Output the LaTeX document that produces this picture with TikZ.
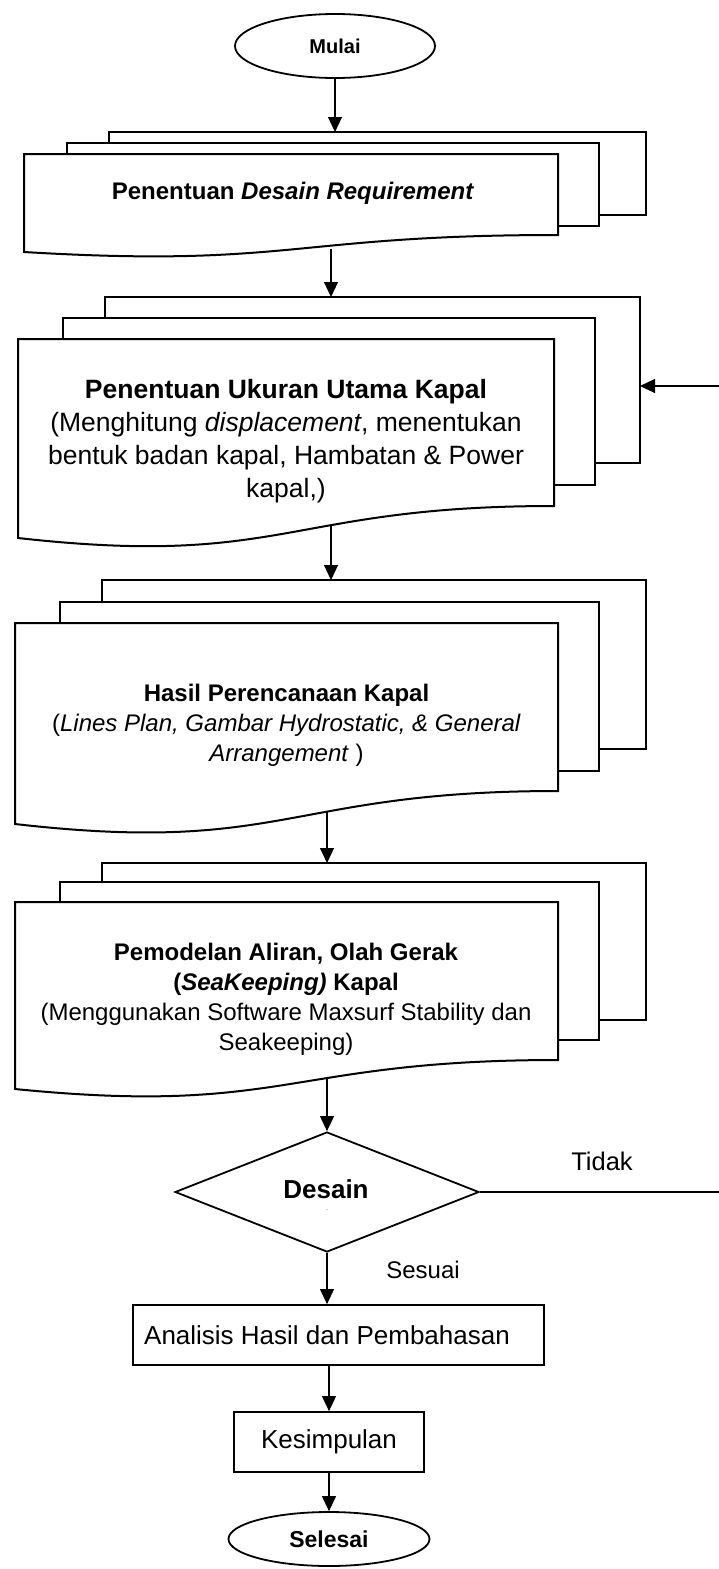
\documentclass[tikz,border=0pt]{standalone}
\usepackage{fontspec}
\setmainfont{Liberation Sans}
\usetikzlibrary{arrows.meta,shapes.geometric}
\begin{document}
\begin{tikzpicture}[x=1pt,y=-1pt,
  page/.style={draw, line width=2pt, fill=white, line join=miter},
  conn/.style={line width=1.1pt, -{Triangle[length=15pt,width=14pt]}},
  plain/.style={line width=1.1pt},
  term/.style={draw, ellipse, line width=1.8pt, inner sep=0pt},
  boxnode/.style={draw, line width=1.8pt, inner sep=0pt},
  txt/.style={align=center, inner sep=0pt}]
\useasboundingbox (0,0) rectangle (719,1569);

% Start
\node[term, minimum width=200pt, minimum height=64pt, font=\fontsize{20}{24}\selectfont\bfseries] (mulai) at (335,46) {Mulai};

% Block 1
\draw[page] (109,132) rectangle (646,215);
\draw[page] (67,143) rectangle (599,226);
\draw[page] (24,154) -- (558,154) -- (558,235) .. controls (291,235) and (291,268) .. (24,252) -- cycle;
\node[txt, font=\fontsize{24}{30}\selectfont\bfseries] (t1) at (293,193) {Penentuan \textit{Desain Requirement}};
\coordinate (b1top) at (335,132);
\coordinate (b1bot) at (331,249);

% Block 2
\draw[page] (105,297) rectangle (640,463);
\draw[page] (63,318) rectangle (595,485);
\draw[page] (18,339) -- (554,339) -- (554,506) .. controls (286,506) and (286,568) .. (18,538) -- cycle;
\node[txt, font=\fontsize{26.5}{33}\selectfont] (t2) at (286,441) {\textbf{Penentuan Ukuran Utama Kapal}\\(Menghitung \textit{displacement}, menentukan\\bentuk badan kapal, Hambatan \& Power\\kapal,)};
\coordinate (b2top) at (331,297);
\coordinate (b2bot) at (331,526);
\coordinate (b2right) at (640,386);
\coordinate (loopin) at (719,386);

% Block 3
\draw[page] (102,580) rectangle (646,749);
\draw[page] (60,602) rectangle (599,771);
\draw[page] (15,623) -- (558,623) -- (558,791) .. controls (286,791) and (286,855) .. (15,824) -- cycle;
\node[txt, font=\fontsize{24}{30}\selectfont] (t3) at (286.5,725) {\textbf{Hasil Perencanaan Kapal}\\(\textit{Lines Plan, Gambar Hydrostatic, \& General}\\\textit{Arrangement} )};
\coordinate (b3top) at (331,580);
\coordinate (b3bot) at (327,812);

% Block 4
\draw[page] (102,863) rectangle (646,1020);
\draw[page] (60,882) rectangle (599,1040);
\draw[page] (15,902) -- (558,902) -- (558,1060) .. controls (286,1060) and (286,1116) .. (15,1089) -- cycle;
\node[txt, font=\fontsize{24}{30}\selectfont] (t4) at (286,999) {\textbf{Pemodelan Aliran, Olah Gerak}\\\textbf{(\textit{SeaKeeping)} Kapal}\\(Menggunakan Software Maxsurf Stability dan\\Seakeeping)};
\coordinate (b4top) at (327,863);
\coordinate (b4bot) at (327,1078);

% Decision
\node[draw, diamond, line width=1.8pt, inner sep=0pt, minimum width=304pt, minimum height=120pt] (dia) at (327,1192) {};
\node[txt, font=\fontsize{26}{30}\selectfont\bfseries] (diatext) at (326,1189) {Desain};
\node[txt, font=\fontsize{6}{6}\selectfont, text=gray] (dash) at (327,1211) {-};
\coordinate (loopout) at (719,1192);
\node[txt, font=\fontsize{25.5}{30}\selectfont] (tidak) at (602,1161) {Tidak};
\node[txt, font=\fontsize{24}{30}\selectfont] (sesuai) at (423,1270) {Sesuai};

% Bottom boxes
\node[boxnode, minimum width=411pt, minimum height=60pt] (ana) at (338.5,1335) {};
\node[txt, font=\fontsize{26}{30}\selectfont] (anatext) at (327,1335) {Analisis Hasil dan Pembahasan};
\node[boxnode, minimum width=190pt, minimum height=60pt, font=\fontsize{26}{30}\selectfont] (kes) at (329,1442) {Kesimpulan};
\node[term, minimum width=201pt, minimum height=54pt, font=\fontsize{23}{28}\selectfont\bfseries] (sel) at (329,1539) {Selesai};

% Connectors
\draw[conn] (mulai.south) -- (b1top);
\draw[conn] (b1bot) -- (b2top);
\draw[conn] (loopin) -- (b2right);
\draw[conn] (b2bot) -- (b3top);
\draw[conn] (b3bot) -- (b4top);
\draw[conn] (b4bot) -- (dia.north);
\draw[plain] (dia.east) -- (loopout);
\draw[conn] (dia.south) -- (dia.south |- ana.north);
\draw[conn] (ana.south -| kes.north) -- (kes.north);
\draw[conn] (kes.south) -- (sel.north);
\end{tikzpicture}
\end{document}
